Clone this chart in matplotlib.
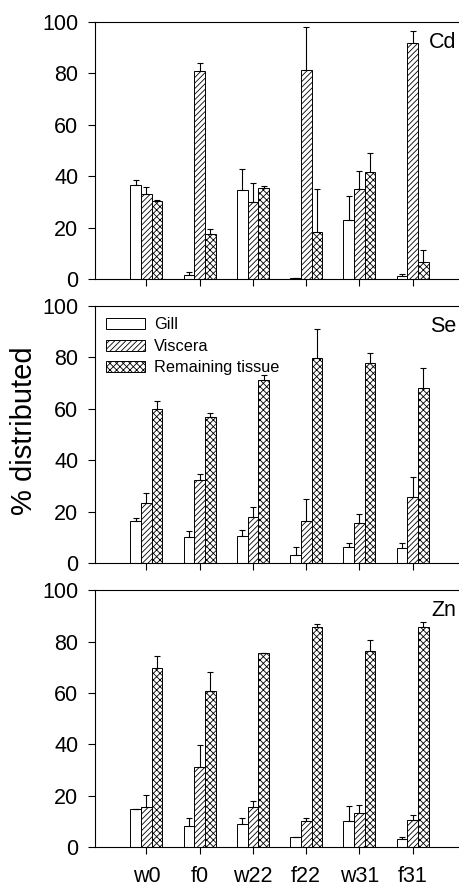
import matplotlib
matplotlib.use("Agg")
import matplotlib.pyplot as plt
import numpy as np

plt.rcParams['hatch.linewidth'] = 0.6
plt.rcParams['font.family'] = ['Liberation Sans', 'DejaVu Sans']

groups = ["w0", "f0", "w22", "f22", "w31", "f31"]
series = ["Gill", "Viscera", "Remaining tissue"]

# Cd
cd_gill = [36.6, 1.7, 34.5, 0.3, 23.0, 1.3]
cd_gill_top = [38.4, 2.7, 42.8, 0.3, 32.4, 1.9]
cd_visc = [33.1, 80.9, 30.0, 81.3, 35.0, 91.8]
cd_visc_top = [35.7, 83.9, 37.5, 97.9, 41.9, 96.4]
cd_rem = [30.4, 17.5, 35.3, 18.2, 41.5, 6.5]
cd_rem_top = [30.6, 19.3, 36.0, 35.0, 48.9, 11.2]

# Se
se_gill = [16.5, 10.1, 10.5, 3.2, 6.2, 5.8]
se_gill_top = [17.4, 12.3, 13.0, 6.1, 7.8, 7.8]
se_visc = [23.4, 32.5, 17.8, 16.5, 15.6, 25.6]
se_visc_top = [27.3, 34.8, 21.9, 24.8, 19.0, 33.4]
se_rem = [60.1, 56.9, 71.2, 79.9, 77.8, 68.0]
se_rem_top = [63.1, 58.4, 73.0, 91.2, 81.9, 75.8]

# Zn
zn_gill = [14.8, 8.0, 8.9, 3.9, 10.2, 3.2]
zn_gill_top = [14.9, 11.3, 11.3, 3.9, 15.8, 4.0]
zn_visc = [15.5, 31.1, 15.5, 10.2, 13.3, 10.6]
zn_visc_top = [20.3, 39.8, 18.0, 11.3, 16.5, 12.3]
zn_rem = [69.7, 60.8, 75.4, 85.5, 76.2, 85.8]
zn_rem_top = [74.4, 68.3, 75.4, 86.7, 80.4, 87.6]

panels = [
    ("Cd", [(cd_gill, cd_gill_top), (cd_visc, cd_visc_top), (cd_rem, cd_rem_top)]),
    ("Se", [(se_gill, se_gill_top), (se_visc, se_visc_top), (se_rem, se_rem_top)]),
    ("Zn", [(zn_gill, zn_gill_top), (zn_visc, zn_visc_top), (zn_rem, zn_rem_top)]),
]

hatches = ["", "//////", "xxxxx"]
offsets = [-0.2, 0.0, 0.2]
width = 0.2

fig = plt.figure(figsize=(4.59, 8.89), dpi=100)
bottoms = [0.6862, 0.3667, 0.0472]
x = np.arange(len(groups))

for i, (name, data) in enumerate(panels):
    ax = fig.add_axes([0.207, bottoms[i], 0.80, 0.289])
    for j, (vals, tops) in enumerate(data):
        vals = np.array(vals)
        err = np.array(tops) - vals
        ax.bar(x + offsets[j], vals, width, facecolor='white', edgecolor='black',
               hatch=hatches[j], linewidth=0.7, label=series[j])
        ax.errorbar(x + offsets[j], vals, yerr=[np.zeros_like(err), err], fmt='none',
                    ecolor='black', elinewidth=0.8, capsize=2.5, capthick=0.8)
    ax.set_xlim(-0.966, 5.93)
    ax.set_ylim(0, 100)
    ax.set_yticks([0, 20, 40, 60, 80, 100])
    ax.set_xticks(x)
    ax.spines['right'].set_visible(False)
    for s in ['top', 'left', 'bottom']:
        ax.spines[s].set_linewidth(0.8)
    ax.tick_params(axis='y', direction='out', length=5, width=0.8, labelsize=15.5, pad=7)
    ax.tick_params(axis='x', direction='out', length=5, width=0.8, labelsize=15.5, pad=9)
    if i == 2:
        ax.set_xticklabels(groups)
    else:
        ax.set_xticklabels([])
    ax.text(0.985, 0.92, name, transform=ax.transAxes, ha='right', va='center', fontsize=15.5)
    if i == 1:
        ax.legend(loc='upper left', frameon=False, fontsize=11.7, handlelength=2.4,
                  handleheight=0.65, handletextpad=0.55, borderaxespad=0.3,
                  labelspacing=0.4, bbox_to_anchor=(0.0, 1.0))

fig.text(0.052, 0.516, "% distributed", rotation=90, ha='center', va='center', fontsize=21)

fig.savefig("out.png", dpi=100)
